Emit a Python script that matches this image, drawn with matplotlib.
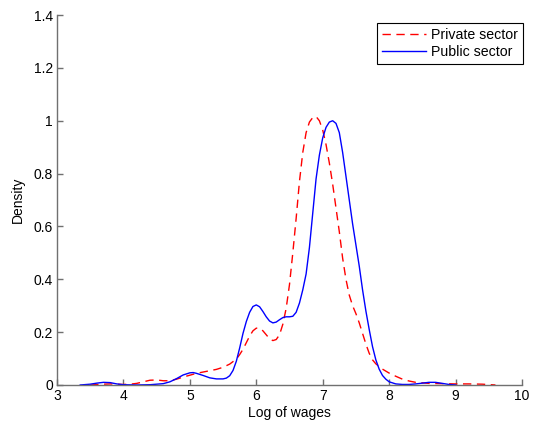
import matplotlib
matplotlib.use("Agg")
import matplotlib.pyplot as plt

plt.rcParams['font.family'] = ['Liberation Sans', 'DejaVu Sans']

public_x = [3.35, 3.5, 3.6, 3.7, 3.8, 3.9, 4.0, 4.2, 4.4, 4.6, 4.7, 4.8, 4.9, 5.0, 5.05,
            5.1, 5.2, 5.3, 5.4, 5.5, 5.55, 5.6, 5.65, 5.7, 5.75, 5.8, 5.85, 5.9, 5.95,
            6.0, 6.05, 6.1, 6.15, 6.2, 6.25, 6.3, 6.35, 6.4, 6.45, 6.5, 6.55, 6.6, 6.65,
            6.7, 6.75, 6.8, 6.85, 6.9, 6.95, 7.0, 7.05, 7.1, 7.15, 7.2, 7.25, 7.3, 7.35,
            7.4, 7.45, 7.5, 7.55, 7.6, 7.65, 7.7, 7.75, 7.8, 7.85, 7.9, 7.95, 8.0, 8.1,
            8.2, 8.3, 8.4, 8.5, 8.6, 8.7, 8.8, 8.9, 9.0]
public_y = [0.000, 0.003, 0.007, 0.010, 0.009, 0.004, 0.001, 0.000, 0.001, 0.005, 0.012,
            0.024, 0.038, 0.046, 0.047, 0.044, 0.036, 0.027, 0.023, 0.023, 0.026, 0.035,
            0.055, 0.090, 0.140, 0.195, 0.240, 0.275, 0.297, 0.303, 0.296, 0.278, 0.258,
            0.242, 0.235, 0.238, 0.247, 0.255, 0.258, 0.258, 0.260, 0.275, 0.310, 0.360,
            0.420, 0.520, 0.650, 0.780, 0.870, 0.935, 0.975, 0.995, 1.000, 0.990, 0.955,
            0.880, 0.790, 0.700, 0.610, 0.530, 0.450, 0.360, 0.280, 0.210, 0.145, 0.095,
            0.060, 0.036, 0.022, 0.012, 0.004, 0.002, 0.002, 0.004, 0.007, 0.010, 0.010,
            0.006, 0.002, 0.000]

private_x = [3.5, 3.7, 3.8, 3.9, 4.0, 4.1, 4.2, 4.3, 4.4, 4.5, 4.6, 4.7, 4.8, 4.9, 5.0,
             5.1, 5.2, 5.3, 5.4, 5.5, 5.6, 5.7, 5.75, 5.8, 5.85, 5.9, 5.95, 6.0, 6.05,
             6.1, 6.15, 6.2, 6.25, 6.3, 6.35, 6.4, 6.45, 6.5, 6.55, 6.6, 6.65, 6.7, 6.75,
             6.8, 6.85, 6.9, 6.95, 7.0, 7.05, 7.1, 7.15, 7.2, 7.25, 7.3, 7.35, 7.4, 7.45,
             7.5, 7.55, 7.6, 7.65, 7.7, 7.75, 7.8, 7.85, 7.9, 8.0, 8.1, 8.2, 8.3, 8.4,
             8.5, 8.6, 8.8, 9.0, 9.2, 9.4, 9.6]
private_y = [0.000, 0.003, 0.004, 0.003, 0.002, 0.003, 0.006, 0.012, 0.018, 0.019, 0.016,
             0.016, 0.022, 0.030, 0.037, 0.044, 0.049, 0.054, 0.059, 0.067, 0.079, 0.098,
             0.115, 0.135, 0.160, 0.185, 0.205, 0.215, 0.215, 0.205, 0.190, 0.175, 0.168,
             0.172, 0.190, 0.230, 0.290, 0.380, 0.500, 0.630, 0.770, 0.880, 0.955, 0.995,
             1.012, 1.016, 1.000, 0.965, 0.910, 0.840, 0.760, 0.670, 0.580, 0.480, 0.400,
             0.340, 0.300, 0.270, 0.235, 0.195, 0.155, 0.120, 0.095, 0.080, 0.070, 0.060,
             0.045, 0.033, 0.022, 0.015, 0.010, 0.008, 0.006, 0.005, 0.004, 0.004, 0.003,
             0.000]

x_ticks = [3, 4, 5, 6, 7, 8, 9, 10]
y_ticks = [0, 0.2, 0.4, 0.6, 0.8, 1, 1.2, 1.4]
y_tick_labels = ['0', '0.2', '0.4', '0.6', '0.8', '1', '1.2', '1.4']

fig = plt.figure(figsize=(5.35, 4.30), dpi=100)
ax = fig.add_axes([0.1065, 0.1047, 0.8692, 0.8603])

ax.plot(private_x, private_y, color='#ff0000', linestyle=(0, (6, 4)), linewidth=1.0,
        label='Private sector')
ax.plot(public_x, public_y, color='#0000ff', linestyle='-', linewidth=1.0,
        label='Public sector')

ax.set_xlim(3, 10)
ax.set_ylim(0, 1.4)
ax.set_xticks(x_ticks)
ax.set_xticklabels([str(t) for t in x_ticks])
ax.set_yticks(y_ticks)
ax.set_yticklabels(y_tick_labels)

for s in ['top', 'right']:
    ax.spines[s].set_visible(False)
for s in ['left', 'bottom']:
    ax.spines[s].set_color('#707070')
    ax.spines[s].set_linewidth(1.0)
ax.tick_params(direction='in', length=4, width=1.0, color='#707070',
               labelsize=10, labelcolor='black', pad=3)

ax.set_xlabel('Log of wages', fontsize=10, labelpad=2)
ax.set_ylabel('Density', fontsize=10, labelpad=6)

leg = ax.legend(loc='upper right', bbox_to_anchor=(1.002, 0.978), fontsize=10.2,
                frameon=True, fancybox=False, framealpha=1, edgecolor='black',
                handlelength=3.1, borderpad=0.35, labelspacing=0.2, handletextpad=0.35,
                borderaxespad=0)
leg._legend_box.align = 'left'
leg.get_frame().set_linewidth(0.8)
# a little extra right padding inside the frame
leg._legend_box.pad = leg._legend_box.pad if hasattr(leg._legend_box, 'pad') else 0

fig.savefig('out.png', dpi=100)
